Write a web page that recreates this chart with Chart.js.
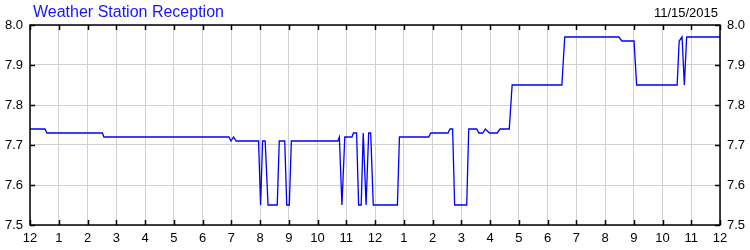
<!DOCTYPE html>
<html>
<head>
<meta charset="utf-8">
<script src="https://cdn.jsdelivr.net/npm/chart.js@4/dist/chart.umd.min.js"></script>
<style>
  body { margin: 0; background: #fff; }
  #wrap { width: 750px; height: 250px; }
</style>
</head>
<body>
<div id="wrap"><canvas id="myChart" width="750" height="250"></canvas></div>
<script>
// hours since midnight and reception level
var hours = [0, 0.52, 0.59, 2.52, 2.57, 6.92, 6.99, 7.08, 7.17, 7.95,
    8.02, 8.09, 8.18, 8.28, 8.60, 8.67, 8.86, 8.93, 9.02, 9.09,
    10.71, 10.76, 10.85, 10.95, 11.20, 11.25, 11.36, 11.43, 11.52, 11.59,
    11.69, 11.78, 11.85, 11.94, 12.78, 12.85, 13.87, 13.94, 14.54, 14.61,
    14.70, 14.77, 15.19, 15.26, 15.54, 15.61, 15.75, 15.84, 15.98, 16.25,
    16.35, 16.67, 16.77, 18.50, 18.60, 20.48, 20.59, 21.01, 21.10, 22.51,
    22.58, 22.68, 22.76, 22.84, 24];
var reception = [7.74, 7.74, 7.73, 7.73, 7.72, 7.72, 7.71, 7.72, 7.71, 7.71,
    7.55, 7.71, 7.71, 7.55, 7.55, 7.71, 7.71, 7.55, 7.55, 7.71,
    7.71, 7.72, 7.55, 7.72, 7.72, 7.73, 7.73, 7.55, 7.55, 7.73,
    7.55, 7.73, 7.73, 7.55, 7.55, 7.72, 7.72, 7.73, 7.73, 7.74,
    7.74, 7.55, 7.55, 7.74, 7.74, 7.73, 7.73, 7.74, 7.73, 7.73,
    7.74, 7.74, 7.85, 7.85, 7.97, 7.97, 7.96, 7.96, 7.85, 7.85,
    7.96, 7.97, 7.85, 7.97, 7.97];
var hourLabels = ['12', '1', '2', '3', '4', '5', '6', '7', '8', '9', '10', '11',
    '12', '1', '2', '3', '4', '5', '6', '7', '8', '9', '10', '11', '12'];
var chartTitle = 'Weather Station Reception';
var chartDate = '11/15/2015';

var points = [];
for (var i = 0; i < hours.length; i++) {
    points.push({ x: hours[i], y: reception[i] });
}

var tickFont = { family: 'Liberation Sans, Arial, sans-serif', size: 13 };

// frame, inward tick marks and the header texts
var framePlugin = {
    id: 'frame',
    afterDraw: function(chart) {
        var ctx = chart.ctx;
        var a = chart.chartArea;
        var xs = chart.scales.x;
        var ys = chart.scales.y;
        ctx.save();
        ctx.strokeStyle = '#000';
        ctx.lineWidth = 1.5;
        ctx.strokeRect(a.left, a.top, a.right - a.left, a.bottom - a.top);

        ctx.lineWidth = 1.5;
        ctx.beginPath();
        xs.ticks.forEach(function(t) {
            var px = Math.round(xs.getPixelForValue(t.value)) + 0.5;
            ctx.moveTo(px, a.bottom); ctx.lineTo(px, a.bottom - 5);
            ctx.moveTo(px, a.top); ctx.lineTo(px, a.top + 5);
        });
        ys.ticks.forEach(function(t) {
            var py = Math.round(ys.getPixelForValue(t.value)) + 0.5;
            ctx.moveTo(a.left, py); ctx.lineTo(a.left + 5, py);
            ctx.moveTo(a.right, py); ctx.lineTo(a.right - 5, py);
        });
        ctx.stroke();

        ctx.textBaseline = 'alphabetic';
        ctx.font = '16px Liberation Sans, Arial, sans-serif';
        ctx.fillStyle = '#1515ff';
        ctx.textAlign = 'left';
        ctx.fillText(chartTitle, 33, 17);
        ctx.font = '13px Liberation Sans, Arial, sans-serif';
        ctx.fillStyle = '#000';
        ctx.textAlign = 'right';
        ctx.fillText(chartDate, 718, 17);
        ctx.restore();
    }
};

var ctx = document.getElementById('myChart');
var myChart = new Chart(ctx, {
    type: 'line',
    data: {
        datasets: [{
            label: chartTitle,
            data: points,
            borderColor: '#0000ff',
            borderWidth: 1.3,
            pointRadius: 0,
            fill: false,
            tension: 0
        }]
    },
    options: {
        responsive: false,
        animation: false,
        events: [],
        layout: { padding: { top: 25, left: 0, right: 0, bottom: 0 } },
        plugins: {
            legend: { display: false },
            title: { display: false },
            tooltip: { enabled: false }
        },
        scales: {
            x: {
                type: 'linear',
                min: 0,
                max: 24,
                afterFit: function(scale) { scale.height = 25; },
                grid: { color: '#d0d0d0', drawTicks: false },
                border: { display: false },
                ticks: {
                    stepSize: 1,
                    padding: 6,
                    maxRotation: 0,
                    autoSkip: false,
                    color: '#000',
                    font: tickFont,
                    callback: function(v) { return hourLabels[v]; }
                }
            },
            y: {
                position: 'left',
                min: 7.5,
                max: 8.0,
                afterFit: function(scale) { scale.width = 30; },
                grid: { color: '#d0d0d0', drawTicks: false },
                border: { display: false },
                ticks: {
                    stepSize: 0.1,
                    padding: 7,
                    color: '#000',
                    font: tickFont,
                    callback: function(v) { return v.toFixed(1); }
                }
            },
            y2: {
                position: 'right',
                min: 7.5,
                max: 8.0,
                afterFit: function(scale) { scale.width = 30; },
                grid: { display: false, drawTicks: false },
                border: { display: false },
                ticks: {
                    stepSize: 0.1,
                    padding: 7,
                    color: '#000',
                    font: tickFont,
                    callback: function(v) { return v.toFixed(1); }
                }
            }
        }
    },
    plugins: [framePlugin]
});
</script>
</body>
</html>
